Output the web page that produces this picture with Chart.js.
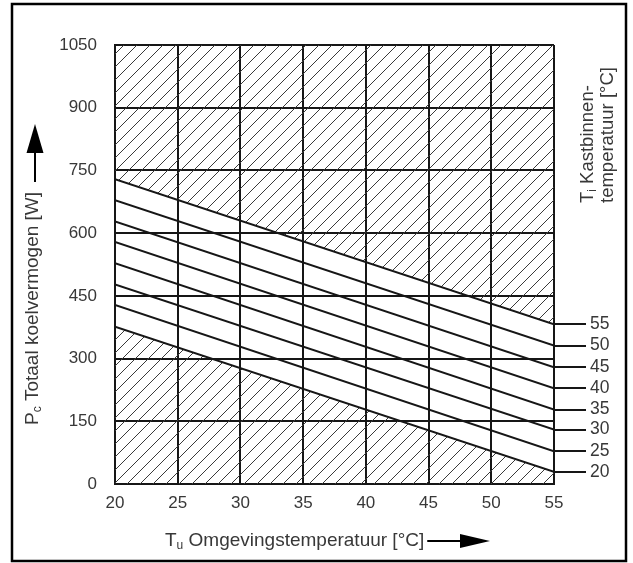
<!DOCTYPE html>
<html>
<head>
<meta charset="utf-8">
<script src="https://cdn.jsdelivr.net/npm/chart.js@4/dist/chart.umd.min.js"></script>
<style>
  html, body { margin: 0; padding: 0; background: #fff; }
</style>
</head>
<body>
<canvas id="chart" width="633" height="563"></canvas>
<script>
  // Ti Kastbinnentemperatuur curves
  const tiLabels = ['20', '25', '30', '35', '40', '45', '50', '55'];
  const tuRange = [20, 55];
  const pcAtTu20 = [376, 428, 477, 528, 579, 628, 679, 729];
  const pcAtTu55 = [29, 78, 130, 178, 229, 279, 331, 382];
  const xTicks = [20, 25, 30, 35, 40, 45, 50, 55];
  const yTicks = [0, 150, 300, 450, 600, 750, 900, 1050];

  const FONT = "'Liberation Sans', Arial, sans-serif";
  const TEXT = '#383838';
  const INK = '#161616';

  function hatchPattern(ctx){
    const s = 13;
    const c = document.createElement('canvas');
    c.width = s; c.height = s;
    const g = c.getContext('2d');
    g.strokeStyle = '#3a3a3a';
    g.lineWidth = 1;
    g.beginPath();
    g.moveTo(-1, s + 1); g.lineTo(s + 1, -1);
    g.moveTo(-1, 1); g.lineTo(1, -1);
    g.moveTo(s - 1, s + 1); g.lineTo(s + 1, s - 1);
    g.stroke();
    return ctx.createPattern(c, 'repeat');
  }

  // draw a run of text pieces (for subscripts) starting at 0,0 in the current transform
  function richText(ctx, parts){
    let x = 0;
    parts.forEach(p => {
      ctx.font = p.size + 'px ' + FONT;
      ctx.fillText(p.t, x, p.dy || 0);
      x += ctx.measureText(p.t).width;
    });
    return x;
  }

  function arrowHead(ctx, tipX, tipY, dirX, dirY, len, half){
    const bx = tipX - dirX * len, by = tipY - dirY * len;
    ctx.beginPath();
    ctx.moveTo(tipX, tipY);
    ctx.lineTo(bx - dirY * half, by + dirX * half);
    ctx.lineTo(bx + dirY * half, by - dirX * half);
    ctx.closePath();
    ctx.fill();
  }

  const decorations = {
    id: 'decorations',
    afterDraw(chart){
      const ctx = chart.ctx;
      ctx.save();
      // outer frame
      ctx.strokeStyle = '#000';
      ctx.lineWidth = 2.5;
      ctx.strokeRect(12, 4, 614, 557);

      ctx.fillStyle = TEXT;
      ctx.textBaseline = 'alphabetic';
      ctx.textAlign = 'left';

      // y title, rotated
      ctx.save();
      ctx.translate(38, 425);
      ctx.rotate(-Math.PI / 2);
      richText(ctx, [
        {t: 'P', size: 19},
        {t: 'c', size: 12, dy: 3},
        {t: ' Totaal koelvermogen [W]', size: 19}
      ]);
      ctx.restore();
      ctx.strokeStyle = '#000';
      ctx.fillStyle = '#000';
      ctx.lineWidth = 2;
      ctx.beginPath(); ctx.moveTo(35, 182); ctx.lineTo(35, 150); ctx.stroke();
      arrowHead(ctx, 35, 124, 0, -1, 29, 8.5);

      // x title
      ctx.fillStyle = TEXT;
      ctx.save();
      ctx.translate(165, 546);
      const w = richText(ctx, [
        {t: 'T', size: 19},
        {t: 'u', size: 12, dy: 3},
        {t: ' Omgevingstemperatuur [°C]', size: 19}
      ]);
      ctx.restore();
      ctx.fillStyle = '#000';
      ctx.beginPath(); ctx.moveTo(165 + w + 3, 541); ctx.lineTo(462, 541); ctx.stroke();
      arrowHead(ctx, 490, 541, 1, 0, 30, 7);

      // right title, two rotated lines
      ctx.fillStyle = TEXT;
      ctx.save();
      ctx.translate(593, 203);
      ctx.rotate(-Math.PI / 2);
      richText(ctx, [
        {t: 'T', size: 18.5},
        {t: 'i', size: 12, dy: 3},
        {t: ' Kastbinnen-', size: 18.5}
      ]);
      ctx.restore();
      ctx.save();
      ctx.translate(613, 203);
      ctx.rotate(-Math.PI / 2);
      richText(ctx, [{t: 'temperatuur [°C]', size: 18.5}]);
      ctx.restore();

      ctx.restore();
    }
  };

  const canvas = document.getElementById('chart');
  const ctx = canvas.getContext('2d');
  const pattern = hatchPattern(ctx);

  const last = tiLabels.length - 1;
  const datasets = tiLabels.map((t, i) => ({
    label: t,
    data: [{x: tuRange[0], y: pcAtTu20[i]}, {x: tuRange[1], y: pcAtTu55[i]}],
    borderColor: INK,
    borderWidth: 2,
    pointRadius: 0,
    tension: 0,
    backgroundColor: pattern,
    fill: i === 0 ? 'start' : (i === last ? 'end' : false)
  }));

  const tickFont = {family: FONT, size: 17};
  const gridStyle = {color: INK, lineWidth: 2, drawTicks: false};

  new Chart(ctx, {
    type: 'line',
    data: {datasets},
    options: {
      responsive: false,
      animation: false,
      layout: {padding: {left: 20, right: 10, top: 45, bottom: 20}},
      plugins: {legend: {display: false}, tooltip: {enabled: false}},
      scales: {
        x: {
          type: 'linear', min: 20, max: 55,
          afterBuildTicks: s => { s.ticks = xTicks.map(v => ({value: v})); },
          afterFit: s => { s.height = 59; },
          ticks: {color: TEXT, font: tickFont, padding: 9, maxRotation: 0, callback: v => String(v)},
          grid: gridStyle,
          border: {color: INK, width: 2}
        },
        y: {
          type: 'linear', position: 'left', min: 0, max: 1050,
          afterBuildTicks: s => { s.ticks = yTicks.map(v => ({value: v})); },
          afterFit: s => { s.width = 95; },
          ticks: {color: TEXT, font: tickFont, padding: 18, callback: v => String(v)},
          grid: gridStyle,
          border: {color: INK, width: 2}
        },
        y2: {
          type: 'linear', position: 'right', min: 0, max: 1050,
          afterBuildTicks: s => { s.ticks = pcAtTu55.map(v => ({value: v})); },
          afterFit: s => { s.width = 69; },
          ticks: {
            color: TEXT, font: {family: FONT, size: 17.5}, padding: 4, autoSkip: false,
            callback: (v, i) => tiLabels[i]
          },
          grid: {drawOnChartArea: false, drawTicks: true, tickLength: 32, color: INK, lineWidth: 2},
          border: {display: false}
        }
      }
    },
    plugins: [decorations]
  });
</script>
</body>
</html>
